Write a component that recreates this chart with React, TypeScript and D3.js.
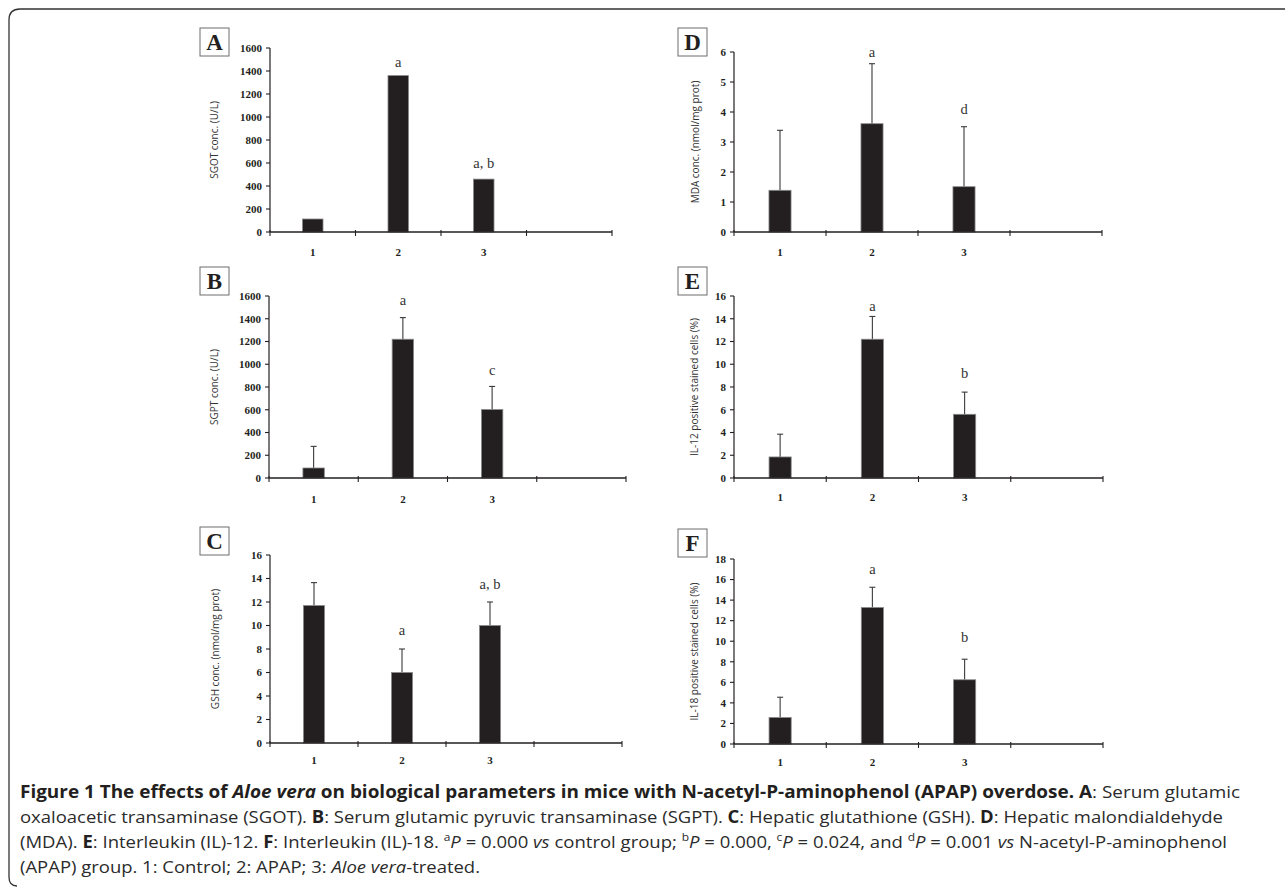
import React from "react";
import * as d3 from "d3";

// ---------- data ----------
const categories = ["1", "2", "3"];

const sgotValues = [113, 1360, 460];
const sgotErrors = [0, 0, 0];
const sgotMarks = ["", "a", "a, b"];
const sgotMarkAt = [0, 1470, 591];

const sgptValues = [88, 1220, 602];
const sgptErrors = [190, 190, 203];
const sgptMarks = ["", "a", "c"];
const sgptMarkAt = [0, 1559, 943];

const gshValues = [11.7, 6.0, 10.0];
const gshErrors = [1.95, 2.0, 2.0];
const gshMarks = ["", "a", "a, b"];
const gshMarkAt = [0, 9.53, 13.42];

const mdaValues = [1.39, 3.61, 1.51];
const mdaErrors = [2.0, 2.0, 2.0];
const mdaMarks = ["", "a", "d"];
const mdaMarkAt = [0, 5.97, 4.07];

const il12Values = [1.85, 12.2, 5.6];
const il12Errors = [2.0, 2.0, 1.95];
const il12Marks = ["", "a", "b"];
const il12MarkAt = [0, 15.06, 9.12];

const il18Values = [2.58, 13.28, 6.25];
const il18Errors = [1.97, 1.97, 2.0];
const il18Marks = ["", "a", "b"];
const il18MarkAt = [0, 16.93, 10.28];

const sgotTicks = [0, 200, 400, 600, 800, 1000, 1200, 1400, 1600];
const sgptTicks = [0, 200, 400, 600, 800, 1000, 1200, 1400, 1600];
const gshTicks = [0, 2, 4, 6, 8, 10, 12, 14, 16];
const mdaTicks = [0, 1, 2, 3, 4, 5, 6];
const il12Ticks = [0, 2, 4, 6, 8, 10, 12, 14, 16];
const il18Ticks = [0, 2, 4, 6, 8, 10, 12, 14, 16, 18];

// ---------- layout ----------
const layouts = {
  A: { left: 270, right: 612, top: 48, bottom: 232, boxX: 200, boxY: 28, labelX: 218, catOff: 24 },
  B: { left: 269, right: 626, top: 296, bottom: 478, boxX: 200, boxY: 267, labelX: 218, catOff: 24.5 },
  C: { left: 270, right: 622, top: 555, bottom: 743, boxX: 200, boxY: 527, labelX: 219, catOff: 21 },
  D: { left: 734, right: 1102, top: 52, bottom: 232, boxX: 678, boxY: 28, labelX: 699, catOff: 24 },
  E: { left: 734, right: 1103, top: 296, bottom: 478, boxX: 678, boxY: 267, labelX: 698, catOff: 23 },
  F: { left: 734, right: 1103, top: 559, bottom: 744, boxX: 678, boxY: 529, labelX: 698, catOff: 22 },
};

const INK = "#231f20";
const SERIF = "'Liberation Serif', 'DejaVu Serif', serif";
const SANS = "'Open Sans', 'Noto Sans', sans-serif";

type PanelProps = {
  letter: string;
  ylabel: string;
  values: number[];
  errors: number[];
  marks: string[];
  markAt: number[];
  ticks: number[];
};

function Panel({ letter, ylabel, values, errors, marks, markAt, ticks }: PanelProps) {
  const L = (layouts as any)[letter];
  const slots = [...categories, ""];
  const x = d3.scaleBand<string>().domain(slots.map((_, i) => String(i))).range([L.left, L.right]).paddingInner(0).paddingOuter(0);
  const y = d3.scaleLinear().domain([0, ticks[ticks.length - 1]]).range([L.bottom, L.top]);
  const bw = x.bandwidth() * 0.24;
  const boundaries = d3.range(slots.length + 1).map((i) => L.left + i * x.bandwidth());
  return (
    <g>
      <rect x={L.boxX} y={L.boxY} width={29} height={28} fill="#fff" stroke="#6d6d6d" strokeWidth={1} />
      <text x={L.boxX + 14.5} y={L.boxY + 22} textAnchor="middle" fontFamily={SERIF} fontWeight="bold" fontSize={23} fill={INK}>
        {letter}
      </text>
      {values.map((v, i) => {
        const cx = (x(String(i)) as number) + x.bandwidth() / 2;
        return (
          <g key={i}>
            {errors[i] > 0 && (
              <g stroke="#3a3a3a" strokeWidth={1.1}>
                <line x1={cx} x2={cx} y1={y(v)} y2={y(v + errors[i])} />
                <line x1={cx - 3} x2={cx + 3} y1={y(v + errors[i])} y2={y(v + errors[i])} />
              </g>
            )}
            <rect x={cx - bw / 2} y={y(v)} width={bw} height={L.bottom - y(v)} fill={INK} stroke="#8a8a8a" strokeWidth={0.8} />
            {marks[i] && (
              <text x={cx} y={y(markAt[i]) + 4} textAnchor="middle" fontFamily={SERIF} fontSize={14.5} fill="#333">
                {marks[i]}
              </text>
            )}
          </g>
        );
      })}
      <line x1={L.left} x2={L.left} y1={L.top} y2={L.bottom} stroke={INK} strokeWidth={1.2} />
      {ticks.map((t) => (
        <g key={t}>
          <line x1={L.left - 4} x2={L.left} y1={y(t)} y2={y(t)} stroke={INK} strokeWidth={1.1} />
          <text x={L.left - 8} y={y(t) + 3.8} textAnchor="end" fontFamily={SERIF} fontWeight="bold" fontSize={11} fill={INK}>
            {t}
          </text>
        </g>
      ))}
      <line x1={L.left} x2={L.right} y1={L.bottom} y2={L.bottom} stroke={INK} strokeWidth={1.3} />
      {boundaries.map((bx, i) => (
        <line key={i} x1={bx} x2={bx} y1={L.bottom - 2} y2={L.bottom + 4} stroke={INK} strokeWidth={1.1} />
      ))}
      {categories.map((c, i) => (
        <text key={c} x={(x(String(i)) as number) + x.bandwidth() / 2} y={L.bottom + L.catOff} textAnchor="middle" fontFamily={SERIF} fontWeight="bold" fontSize={11} fill={INK}>
          {c}
        </text>
      ))}
      <text
        transform={`translate(${L.labelX},${(L.top + L.bottom) / 2}) rotate(-90)`}
        textAnchor="middle"
        fontFamily={SANS}
        fontSize={10}
        fill="#333"
      >
        {ylabel}
      </text>
    </g>
  );
}

export default function App() {
  const capStyle = { fontFamily: SANS, fontSize: 17, fill: "#2b2b2b" } as any;
  return (
    <svg width={1285} height={889} style={{ position: "absolute", left: 0, top: 0, background: "#fff" }}>
      <rect x={0} y={0} width={1285} height={889} fill="#fff" />
      <path d="M1285,9 L20,9 Q9,9 9,20 L9,877 Q9,886 17,886" fill="none" stroke="#333" strokeWidth={1.3} />
      <Panel letter="A" ylabel="SGOT conc. (U/L)" values={sgotValues} errors={sgotErrors} marks={sgotMarks} markAt={sgotMarkAt} ticks={sgotTicks} />
      <Panel letter="B" ylabel="SGPT conc. (U/L)" values={sgptValues} errors={sgptErrors} marks={sgptMarks} markAt={sgptMarkAt} ticks={sgptTicks} />
      <Panel letter="C" ylabel="GSH conc. (nmol/mg prot)" values={gshValues} errors={gshErrors} marks={gshMarks} markAt={gshMarkAt} ticks={gshTicks} />
      <Panel letter="D" ylabel="MDA conc. (nmol/mg prot)" values={mdaValues} errors={mdaErrors} marks={mdaMarks} markAt={mdaMarkAt} ticks={mdaTicks} />
      <Panel letter="E" ylabel="IL-12 positive stained cells (%)" values={il12Values} errors={il12Errors} marks={il12Marks} markAt={il12MarkAt} ticks={il12Ticks} />
      <Panel letter="F" ylabel="IL-18 positive stained cells (%)" values={il18Values} errors={il18Errors} marks={il18Marks} markAt={il18MarkAt} ticks={il18Ticks} />

      <g style={capStyle}>
        <text x={20} y={798} textLength={1220} lengthAdjust="spacingAndGlyphs">
          <tspan fontWeight="bold" fill={INK}>Figure 1 The effects of </tspan>
          <tspan fontWeight="bold" fontStyle="italic" fill={INK}>Aloe vera</tspan>
          <tspan fontWeight="bold" fill={INK}> on biological parameters in mice with N-acetyl-P-aminophenol (APAP) overdose. A</tspan>
          <tspan>: Serum glutamic</tspan>
        </text>
        <text x={20} y={823} textLength={1203} lengthAdjust="spacingAndGlyphs">
          <tspan>oxaloacetic transaminase (SGOT). </tspan>
          <tspan fontWeight="bold" fill={INK}>B</tspan>
          <tspan>: Serum glutamic pyruvic transaminase (SGPT). </tspan>
          <tspan fontWeight="bold" fill={INK}>C</tspan>
          <tspan>: Hepatic glutathione (GSH). </tspan>
          <tspan fontWeight="bold" fill={INK}>D</tspan>
          <tspan>: Hepatic malondialdehyde</tspan>
        </text>
        <text x={20} y={848} textLength={1207} lengthAdjust="spacingAndGlyphs">
          <tspan>(MDA). </tspan>
          <tspan fontWeight="bold" fill={INK}>E</tspan>
          <tspan>: Interleukin (IL)-12. </tspan>
          <tspan fontWeight="bold" fill={INK}>F</tspan>
          <tspan>: Interleukin (IL)-18. </tspan>
          <tspan fontSize={11} baselineShift="super">a</tspan>
          <tspan fontStyle="italic">P</tspan>
          <tspan> = 0.000 </tspan>
          <tspan fontStyle="italic">vs</tspan>
          <tspan> control group; </tspan>
          <tspan fontSize={11} baselineShift="super">b</tspan>
          <tspan fontStyle="italic">P</tspan>
          <tspan> = 0.000, </tspan>
          <tspan fontSize={11} baselineShift="super">c</tspan>
          <tspan fontStyle="italic">P</tspan>
          <tspan> = 0.024, and </tspan>
          <tspan fontSize={11} baselineShift="super">d</tspan>
          <tspan fontStyle="italic">P</tspan>
          <tspan> = 0.001 </tspan>
          <tspan fontStyle="italic">vs</tspan>
          <tspan> N-acetyl-P-aminophenol</tspan>
        </text>
        <text x={20} y={873} textLength={460} lengthAdjust="spacingAndGlyphs">
          <tspan>(APAP) group. 1: Control; 2: APAP; 3: </tspan>
          <tspan fontStyle="italic">Aloe vera</tspan>
          <tspan>-treated.</tspan>
        </text>
      </g>
    </svg>
  );
}
